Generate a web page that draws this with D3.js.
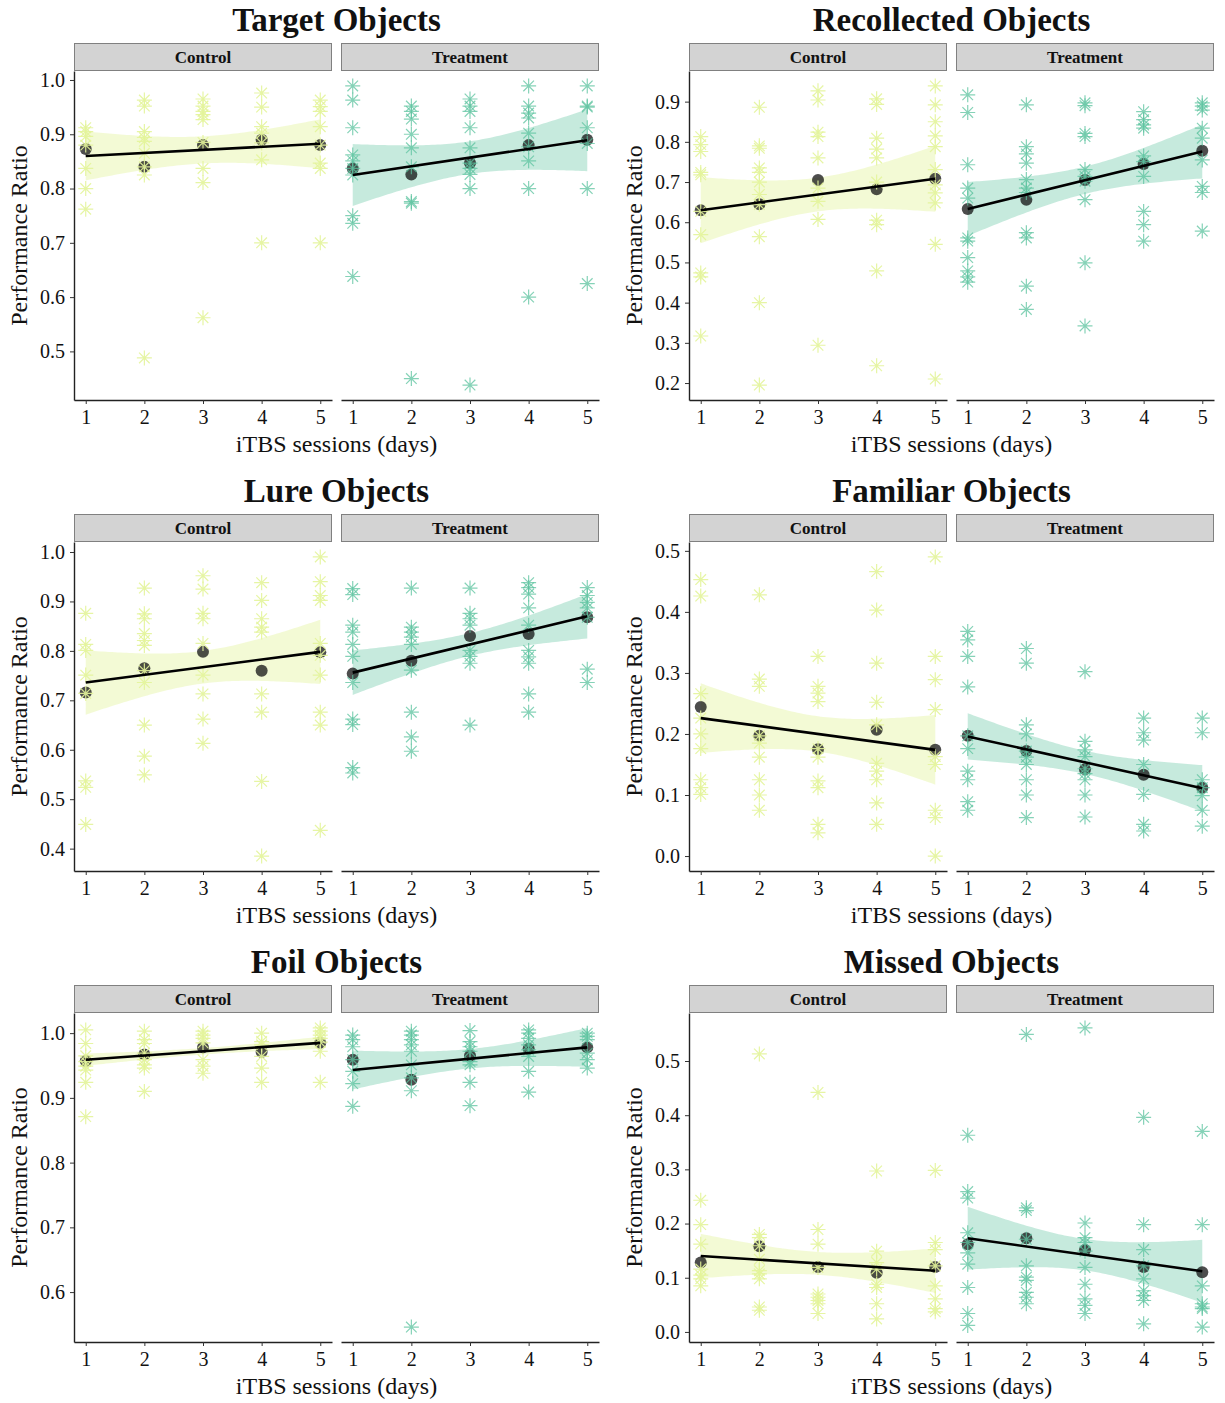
<!DOCTYPE html>
<html><head><meta charset="utf-8">
<script src="https://cdn.jsdelivr.net/npm/d3@7/dist/d3.min.js"></script>
<style>
body{margin:0;background:#fff;}
svg text{font-family:"Liberation Serif","DejaVu Serif",serif;fill:#111;}
</style></head><body>
<svg id="chart" width="1225" height="1403"></svg>
<script>
// ---------- data ----------
const days = [1, 2, 3, 4, 5];
const groups = ["Control", "Treatment"];
const titles = ["Target Objects", "Recollected Objects", "Lure Objects", "Familiar Objects", "Foil Objects", "Missed Objects"];
const xLabel = "iTBS sessions (days)";
const yLabel = "Performance Ratio";

// y tick labels per panel
const targetTicks = [0.5, 0.6, 0.7, 0.8, 0.9, 1.0];
const recollectedTicks = [0.2, 0.3, 0.4, 0.5, 0.6, 0.7, 0.8, 0.9];
const lureTicks = [0.4, 0.5, 0.6, 0.7, 0.8, 0.9, 1.0];
const familiarTicks = [0.0, 0.1, 0.2, 0.3, 0.4, 0.5];
const foilTicks = [0.6, 0.7, 0.8, 0.9, 1.0];
const missedTicks = [0.0, 0.1, 0.2, 0.3, 0.4, 0.5];

// individual scores, one inner array per day
const targetControl = [
  [0.912, 0.905, 0.896, 0.88, 0.837, 0.80, 0.762],
  [0.963, 0.952, 0.905, 0.894, 0.887, 0.865, 0.84, 0.825, 0.488],
  [0.965, 0.952, 0.942, 0.936, 0.927, 0.885, 0.837, 0.811, 0.562],
  [0.976, 0.950, 0.914, 0.902, 0.884, 0.853, 0.70],
  [0.963, 0.951, 0.942, 0.914, 0.880, 0.847, 0.837, 0.70]];
const targetTreatment = [
  [0.989, 0.963, 0.912, 0.862, 0.851, 0.837, 0.825, 0.750, 0.736, 0.638],
  [0.952, 0.942, 0.928, 0.900, 0.875, 0.840, 0.776, 0.773, 0.450],
  [0.965, 0.952, 0.942, 0.912, 0.875, 0.847, 0.837, 0.826, 0.800, 0.438],
  [0.989, 0.952, 0.939, 0.930, 0.902, 0.877, 0.851, 0.800, 0.600],
  [0.989, 0.952, 0.950, 0.912, 0.883, 0.800, 0.625]];
const recollectedControl = [
  [0.813, 0.793, 0.776, 0.724, 0.718, 0.627, 0.569, 0.474, 0.464, 0.317],
  [0.886, 0.790, 0.784, 0.735, 0.724, 0.700, 0.669, 0.644, 0.564, 0.400, 0.195],
  [0.927, 0.904, 0.824, 0.813, 0.760, 0.685, 0.652, 0.607, 0.294],
  [0.907, 0.893, 0.809, 0.782, 0.760, 0.700, 0.605, 0.594, 0.479, 0.243],
  [0.939, 0.892, 0.850, 0.815, 0.788, 0.731, 0.693, 0.673, 0.648, 0.545, 0.210]];
const recollectedTreatment = [
  [0.917, 0.873, 0.743, 0.685, 0.660, 0.561, 0.553, 0.512, 0.479, 0.464, 0.451],
  [0.892, 0.788, 0.770, 0.747, 0.706, 0.685, 0.674, 0.574, 0.561, 0.441, 0.383],
  [0.897, 0.890, 0.821, 0.813, 0.731, 0.714, 0.702, 0.656, 0.499, 0.342],
  [0.875, 0.855, 0.842, 0.834, 0.765, 0.751, 0.714, 0.627, 0.594, 0.553],
  [0.897, 0.889, 0.879, 0.834, 0.809, 0.755, 0.689, 0.674, 0.578]];
const lureControl = [
  [0.876, 0.813, 0.801, 0.751, 0.714, 0.537, 0.524, 0.449],
  [0.927, 0.875, 0.865, 0.835, 0.821, 0.811, 0.760, 0.736, 0.650, 0.587, 0.549],
  [0.952, 0.925, 0.876, 0.865, 0.815, 0.751, 0.713, 0.662, 0.613],
  [0.938, 0.902, 0.865, 0.848, 0.838, 0.713, 0.676, 0.536, 0.385],
  [0.990, 0.940, 0.912, 0.902, 0.815, 0.791, 0.751, 0.676, 0.650, 0.437]];
const lureTreatment = [
  [0.926, 0.914, 0.852, 0.838, 0.813, 0.789, 0.736, 0.662, 0.651, 0.564, 0.553],
  [0.927, 0.848, 0.838, 0.828, 0.813, 0.761, 0.676, 0.626, 0.597],
  [0.927, 0.876, 0.865, 0.852, 0.801, 0.789, 0.775, 0.650],
  [0.938, 0.928, 0.915, 0.887, 0.852, 0.801, 0.788, 0.775, 0.713, 0.676],
  [0.928, 0.912, 0.898, 0.887, 0.868, 0.763, 0.736]];
const familiarControl = [
  [0.453, 0.426, 0.266, 0.226, 0.200, 0.176, 0.125, 0.112, 0.101],
  [0.428, 0.290, 0.278, 0.197, 0.185, 0.162, 0.125, 0.100, 0.075],
  [0.327, 0.278, 0.267, 0.253, 0.176, 0.162, 0.123, 0.112, 0.052, 0.038],
  [0.466, 0.403, 0.316, 0.252, 0.215, 0.152, 0.139, 0.125, 0.087, 0.052],
  [0.490, 0.327, 0.289, 0.240, 0.163, 0.150, 0.075, 0.063, 0.000]];
const familiarTreatment = [
  [0.368, 0.354, 0.327, 0.277, 0.197, 0.176, 0.139, 0.125, 0.089, 0.075],
  [0.340, 0.316, 0.215, 0.200, 0.172, 0.162, 0.150, 0.125, 0.100, 0.063],
  [0.302, 0.188, 0.174, 0.163, 0.143, 0.135, 0.125, 0.100, 0.064],
  [0.226, 0.202, 0.190, 0.150, 0.101, 0.052, 0.041],
  [0.226, 0.202, 0.125, 0.112, 0.099, 0.075, 0.049]];
const foilControl = [
  [1.005, 0.984, 0.965, 0.956, 0.949, 0.943, 0.924, 0.871],
  [1.003, 0.990, 0.984, 0.969, 0.959, 0.951, 0.946, 0.910],
  [1.003, 0.997, 0.992, 0.985, 0.959, 0.949, 0.938],
  [1.000, 0.987, 0.982, 0.964, 0.946, 0.924],
  [1.008, 1.003, 0.997, 0.992, 0.986, 0.972, 0.924]];
const foilTreatment = [
  [0.997, 0.990, 0.979, 0.959, 0.941, 0.922, 0.887],
  [1.003, 0.997, 0.990, 0.982, 0.972, 0.951, 0.931, 0.911, 0.546],
  [1.004, 0.987, 0.979, 0.972, 0.956, 0.951, 0.924, 0.888],
  [1.005, 1.000, 0.992, 0.982, 0.974, 0.964, 0.941, 0.909],
  [1.000, 0.995, 0.990, 0.969, 0.959, 0.946]];
const missedControl = [
  [0.243, 0.198, 0.162, 0.116, 0.105, 0.098, 0.085],
  [0.513, 0.180, 0.174, 0.159, 0.134, 0.113, 0.107, 0.098, 0.046, 0.040],
  [0.442, 0.189, 0.162, 0.119, 0.070, 0.064, 0.058, 0.052, 0.034],
  [0.297, 0.149, 0.128, 0.116, 0.088, 0.082, 0.052, 0.024],
  [0.298, 0.165, 0.152, 0.122, 0.085, 0.061, 0.043, 0.037]];
const missedTreatment = [
  [0.363, 0.259, 0.247, 0.183, 0.165, 0.146, 0.125, 0.082, 0.034, 0.012],
  [0.549, 0.229, 0.224, 0.171, 0.122, 0.101, 0.095, 0.073, 0.064, 0.052],
  [0.561, 0.201, 0.174, 0.165, 0.149, 0.119, 0.088, 0.061, 0.049, 0.034],
  [0.396, 0.198, 0.152, 0.122, 0.098, 0.076, 0.067, 0.058, 0.015],
  [0.370, 0.198, 0.085, 0.052, 0.046, 0.043, 0.009]];

// daily means [control, treatment]
const targetMeans = [[0.873, 0.840, 0.880, 0.890, 0.880], [0.837, 0.826, 0.847, 0.880, 0.890]];
const recollectedMeans = [[0.630, 0.645, 0.705, 0.682, 0.708], [0.633, 0.656, 0.705, 0.745, 0.778]];
const lureMeans = [[0.716, 0.765, 0.798, 0.760, 0.797], [0.754, 0.780, 0.830, 0.834, 0.868]];
const familiarMeans = [[0.244, 0.197, 0.175, 0.207, 0.174], [0.197, 0.172, 0.142, 0.133, 0.112]];
const foilMeans = [[0.957, 0.967, 0.978, 0.971, 0.985], [0.959, 0.928, 0.965, 0.976, 0.978]];
const missedMeans = [[0.128, 0.158, 0.120, 0.109, 0.120], [0.162, 0.173, 0.151, 0.120, 0.110]];

// linear fit: [fit at day 1, fit at day 5, CI half-width at ends, CI half-width at day 3]
const targetFit = [[0.860, 0.8825, 0.045, 0.025], [0.825, 0.889, 0.057, 0.030]];
const recollectedFit = [[0.630, 0.708, 0.082, 0.042], [0.633, 0.776, 0.067, 0.034]];
const lureFit = [[0.736, 0.798, 0.065, 0.033], [0.756, 0.870, 0.045, 0.023]];
const familiarFit = [[0.226, 0.174, 0.057, 0.029], [0.196, 0.111, 0.038, 0.019]];
const foilFit = [[0.959, 0.985, 0.0095, 0.005], [0.943, 0.978, 0.030, 0.015]];
const missedFit = [[0.140, 0.113, 0.041, 0.021], [0.173, 0.112, 0.058, 0.029]];

const panels = [
  {title: titles[0], ticks: targetTicks, pts: [targetControl, targetTreatment], means: targetMeans, fit: targetFit},
  {title: titles[1], ticks: recollectedTicks, pts: [recollectedControl, recollectedTreatment], means: recollectedMeans, fit: recollectedFit},
  {title: titles[2], ticks: lureTicks, pts: [lureControl, lureTreatment], means: lureMeans, fit: lureFit},
  {title: titles[3], ticks: familiarTicks, pts: [familiarControl, familiarTreatment], means: familiarMeans, fit: familiarFit},
  {title: titles[4], ticks: foilTicks, pts: [foilControl, foilTreatment], means: foilMeans, fit: foilFit},
  {title: titles[5], ticks: missedTicks, pts: [missedControl, missedTreatment], means: missedMeans, fit: missedFit}
];

// ---------- style ----------
const ptColor = ["#e3f49a", "#5cc39f"];
const ptOpacity = [0.9, 0.75];
const bandOpacity = [0.42, 0.35];
const rowH = 471, facetW = 258, gap = 9;
const colLeft = [74, 689];

const svg = d3.select("#chart");
svg.append("rect").attr("width", 1225).attr("height", 1403).attr("fill", "#fff");

const astPath = (r) => {
  const d = r * Math.SQRT1_2;
  return `M0,${-r}V${r}M${-r},0H${r}M${-d},${-d}L${d},${d}M${-d},${d}L${d},${-d}`;
};

panels.forEach((p, i) => {
  const col = i % 2, row = Math.floor(i / 2);
  const top = row * rowH;
  const left = colLeft[col];
  const plotTop = top + 71, plotBottom = top + 400;
  const g = svg.append("g");

  // y domain: data + ribbons, expanded by 5%
  const fitAt = (f, d) => f[0] + (f[1] - f[0]) * (d - 1) / 4;
  const half = (f, d) => Math.sqrt(f[3] * f[3] + (f[2] * f[2] - f[3] * f[3]) * ((d - 3) / 2) ** 2);
  const vals = [];
  p.pts.forEach(gr => gr.forEach(a => vals.push(...a)));
  p.fit.forEach(f => { [1, 5].forEach(d => { vals.push(fitAt(f, d) - half(f, d), fitAt(f, d) + half(f, d)); }); });
  const [lo, hi] = d3.extent(vals);
  const pad = (hi - lo) * 0.05;
  const y = d3.scaleLinear().domain([lo - pad, hi + pad]).range([plotBottom, plotTop]);

  // title
  g.append("text").attr("x", left + facetW + gap / 2).attr("y", top + 31)
    .attr("text-anchor", "middle").attr("font-weight", "bold").attr("font-size", 33)
    .text(p.title);

  groups.forEach((grp, k) => {
    const fx = left + k * (facetW + gap);
    const x = d3.scaleLinear().domain([0.8, 5.2]).range([fx, fx + facetW]);

    // strip
    g.append("rect").attr("x", fx + 0.5).attr("y", top + 43.5).attr("width", facetW - 1).attr("height", 27)
      .attr("fill", "#d3d3d3").attr("stroke", "#808080").attr("stroke-width", 1);
    g.append("text").attr("x", fx + facetW / 2).attr("y", top + 57).attr("dy", "0.35em")
      .attr("text-anchor", "middle").attr("font-weight", "bold").attr("font-size", 17)
      .text(grp);

    // confidence band
    const f = p.fit[k];
    const xs = d3.range(1, 5.0001, 0.05);
    g.append("path").datum(xs)
      .attr("d", d3.area().x(d => x(d)).y0(d => y(fitAt(f, d) - half(f, d))).y1(d => y(fitAt(f, d) + half(f, d))))
      .attr("fill", ptColor[k]).attr("fill-opacity", bandOpacity[k]);

    // means
    g.append("g").selectAll("circle").data(p.means[k]).join("circle")
      .attr("cx", (d, j) => x(days[j])).attr("cy", d => y(d)).attr("r", 6)
      .attr("fill", "#111").attr("fill-opacity", 0.75);

    // individual points (asterisks)
    const flat = [];
    p.pts[k].forEach((arr, j) => arr.forEach(v => flat.push({day: days[j], v})));
    g.append("g").selectAll("path").data(flat).join("path")
      .attr("transform", d => `translate(${x(d.day)},${y(d.v)})`)
      .attr("d", astPath(7.5)).attr("fill", "none")
      .attr("stroke", ptColor[k]).attr("stroke-opacity", ptOpacity[k]).attr("stroke-width", 1.2);

    // fitted line
    g.append("path").datum([1, 5])
      .attr("d", d3.line().x(d => x(d)).y(d => y(fitAt(f, d))))
      .attr("stroke", "#000").attr("stroke-width", 2.6).attr("fill", "none");

    // bottom axis
    const ax = g.append("g").attr("transform", `translate(0,${plotBottom})`)
      .call(d3.axisBottom(x).tickValues(days).tickFormat(d3.format("d")).tickSize(4).tickSizeOuter(0).tickPadding(6));
    ax.select(".domain").attr("stroke", "#222").attr("stroke-width", 1.4);
    ax.selectAll(".tick line").attr("stroke", "#333");
    ax.selectAll("text").attr("font-size", 20).attr("font-family", "Liberation Serif, serif").attr("fill", "#111");

    if (k === 0) {
      const ay = g.append("g").attr("transform", `translate(${fx},0)`)
        .call(d3.axisLeft(y).tickValues(p.ticks).tickFormat(d3.format(".1f")).tickSize(4).tickSizeOuter(0).tickPadding(5));
      ay.select(".domain").attr("stroke", "#222").attr("stroke-width", 1.4);
      ay.selectAll(".tick line").attr("stroke", "#333");
      ay.selectAll("text").attr("font-size", 20).attr("font-family", "Liberation Serif, serif").attr("fill", "#111");
    }
  });

  // axis titles
  g.append("text").attr("x", left + facetW + gap / 2).attr("y", top + 452)
    .attr("text-anchor", "middle").attr("font-size", 24).text(xLabel);
  g.append("text").attr("transform", `translate(${left - 55},${(plotTop + plotBottom) / 2}) rotate(-90)`)
    .attr("dy", "0.35em").attr("text-anchor", "middle").attr("font-size", 24).text(yLabel);
});
</script>
</body></html>
